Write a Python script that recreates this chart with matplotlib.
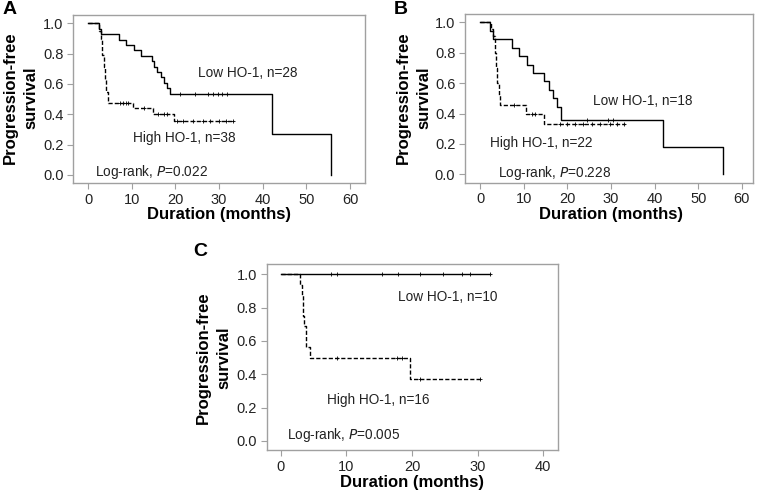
import numpy as np
import matplotlib
matplotlib.use('Agg')
import matplotlib.pyplot as plt

plt.rcParams['font.family'] = ['Liberation Sans', 'DejaVu Sans']

# Panel A
a_low_t = [0, 2.4, 2.9, 7.2, 8.7, 10.6, 12.2, 14.6, 15.2, 15.9, 16.6, 17.4, 18.1, 18.8, 42.0, 55.7]
a_low_s = [1.0, 0.964, 0.929, 0.893, 0.857, 0.821, 0.786, 0.750, 0.714, 0.679, 0.643, 0.607, 0.571, 0.536, 0.268, 0.0]
a_low_end = 55.7
a_low_cens = [21.0, 24.5, 27.5, 28.6, 29.8, 30.7, 31.8]

a_high_t = [0, 2.6, 3.0, 3.3, 3.6, 3.9, 4.2, 4.5, 10.2, 14.8, 19.6]
a_high_s = [1.0, 0.947, 0.895, 0.79, 0.71, 0.63, 0.55, 0.474, 0.440, 0.403, 0.353]
a_high_end = 33.4
a_high_cens = [7.3, 8.1, 8.7, 9.2, 12.7, 16.1, 17.3, 18.0, 20.3, 21.7, 24.1, 26.4, 28.0, 30.0, 31.5, 33.2]

# Panel B
b_low_t = [0, 2.4, 3.0, 7.3, 9.0, 10.7, 12.1, 14.7, 15.7, 16.7, 17.7, 18.5, 42.0, 55.7]
b_low_s = [1.0, 0.944, 0.889, 0.833, 0.778, 0.722, 0.667, 0.611, 0.556, 0.500, 0.444, 0.359, 0.180, 0.0]
b_low_end = 55.7
b_low_cens = [24.5, 29.4, 30.4]

b_high_t = [0, 2.5, 3.0, 3.4, 3.7, 4.0, 4.3, 4.6, 10.5, 14.7]
b_high_s = [1.0, 0.955, 0.909, 0.80, 0.70, 0.60, 0.52, 0.455, 0.398, 0.332]
b_high_end = 33.3
b_high_cens = [7.7, 11.9, 12.6, 18.4, 19.9, 21.8, 23.7, 25.7, 27.6, 29.9, 31.4, 33.0]

# Panel C
c_low_t = [0]
c_low_s = [1.0]
c_low_end = 31.9
c_low_cens = [7.6, 8.6, 15.4, 17.9, 21.2, 24.8, 27.6, 28.8, 31.9]

c_high_t = [0, 3.0, 3.2, 3.4, 3.6, 3.9, 4.4, 19.7]
c_high_s = [1.0, 0.9375, 0.875, 0.75, 0.6875, 0.5625, 0.5, 0.375]
c_high_end = 30.5
c_high_cens = [8.6, 17.7, 18.5, 21.2, 30.4]

GREY = '#a0a0a0'
TXT = '#222222'


def km(ax, t, s, end, cens, ls):
    tt = list(t)
    ss = list(s)
    if end > tt[-1]:
        tt.append(end)
        ss.append(ss[-1])
    ax.step(tt, ss, where='post', color='black', lw=1.0, linestyle=ls)
    idx = np.searchsorted(t, cens, side='right') - 1
    ax.plot(cens, np.array(s)[idx], '+', color='black', ms=3.5, mew=0.6)


def style(ax, xlim, xticks, ylim):
    ax.set_xlim(*xlim)
    ax.set_ylim(*ylim)
    ax.set_xticks(xticks)
    ax.set_yticks([0, 0.2, 0.4, 0.6, 0.8, 1.0])
    ax.set_yticklabels(['0.0', '0.2', '0.4', '0.6', '0.8', '1.0'])
    for sp in ax.spines.values():
        sp.set_color(GREY)
        sp.set_linewidth(1.0)
    ax.tick_params(direction='out', length=4, width=0.8, color=GREY,
                   labelsize=10.5, labelcolor=TXT, pad=3)


fig = plt.figure(figsize=(7.58, 4.95), dpi=100)
W, H = 758.0, 495.0

dash = (0, (3, 1.5))
fs = 9.8

# A
axA = fig.add_axes([73.3 / W, 1 - 183.3 / H, (365 - 73.3) / W, (183.3 - 15) / H])
km(axA, a_low_t, a_low_s, a_low_end, a_low_cens, '-')
km(axA, a_high_t, a_high_s, a_high_end, a_high_cens, dash)
style(axA, (-3.37, 63.4), [0, 10, 20, 30, 40, 50, 60], (-0.055, 1.055))
axA.text(25.2, 0.674, 'Low HO-1, n=28', fontsize=fs, color=TXT, va='center')
axA.text(10.2, 0.246, 'High HO-1, n=38', fontsize=fs, color=TXT, va='center')
axA.text(1.6, 0.018, 'Log-rank, $\\it{P}$=0.022', fontsize=fs, color=TXT, va='center')

# B
axB = fig.add_axes([465 / W, 1 - 182.7 / H, (752.7 - 465) / W, (182.7 - 14) / H])
km(axB, b_low_t, b_low_s, b_low_end, b_low_cens, '-')
km(axB, b_high_t, b_high_s, b_high_end, b_high_cens, dash)
style(axB, (-3.44, 62.5), [0, 10, 20, 30, 40, 50, 60], (-0.055, 1.055))
axB.text(26.0, 0.482, 'Low HO-1, n=18', fontsize=fs, color=TXT, va='center')
axB.text(2.3, 0.207, 'High HO-1, n=22', fontsize=fs, color=TXT, va='center')
axB.text(4.2, 0.009, 'Log-rank, $\\it{P}$=0.228', fontsize=fs, color=TXT, va='center')

# C
axC = fig.add_axes([266.7 / W, 1 - 450 / H, (557.7 - 266.7) / W, (450 - 264) / H])
km(axC, c_low_t, c_low_s, c_low_end, c_low_cens, '-')
km(axC, c_high_t, c_high_s, c_high_end, c_high_cens, dash)
style(axC, (-2.13, 42.2), [0, 10, 20, 30, 40], (-0.054, 1.062))
axC.text(17.9, 0.866, 'Low HO-1, n=10', fontsize=fs, color=TXT, va='center')
axC.text(7.0, 0.246, 'High HO-1, n=16', fontsize=fs, color=TXT, va='center')
axC.text(0.9, 0.036, 'Log-rank, $\\it{P}$=0.005', fontsize=fs, color=TXT, va='center')

# axis titles
for cx, cy in [(20.8, 98), (413.7, 98), (214, 357.5)]:
    fig.text(cx / W, 1 - cy / H, 'Progression-free\nsurvival', rotation=90,
             ha='center', va='center', fontsize=12, fontweight='bold',
             linespacing=1.45)
for cx, cy in [(219, 215), (611, 215), (412, 483)]:
    fig.text(cx / W, 1 - cy / H, 'Duration (months)', ha='center', va='center',
             fontsize=12, fontweight='bold')

# panel letters
for lab, lx, ly in [('A', 3, 10), ('B', 394, 10), ('C', 193, 252)]:
    fig.text(lx / W, 1 - ly / H, lab, ha='left', va='center',
             fontsize=14, fontweight='bold')

fig.savefig('out.png', dpi=100)
